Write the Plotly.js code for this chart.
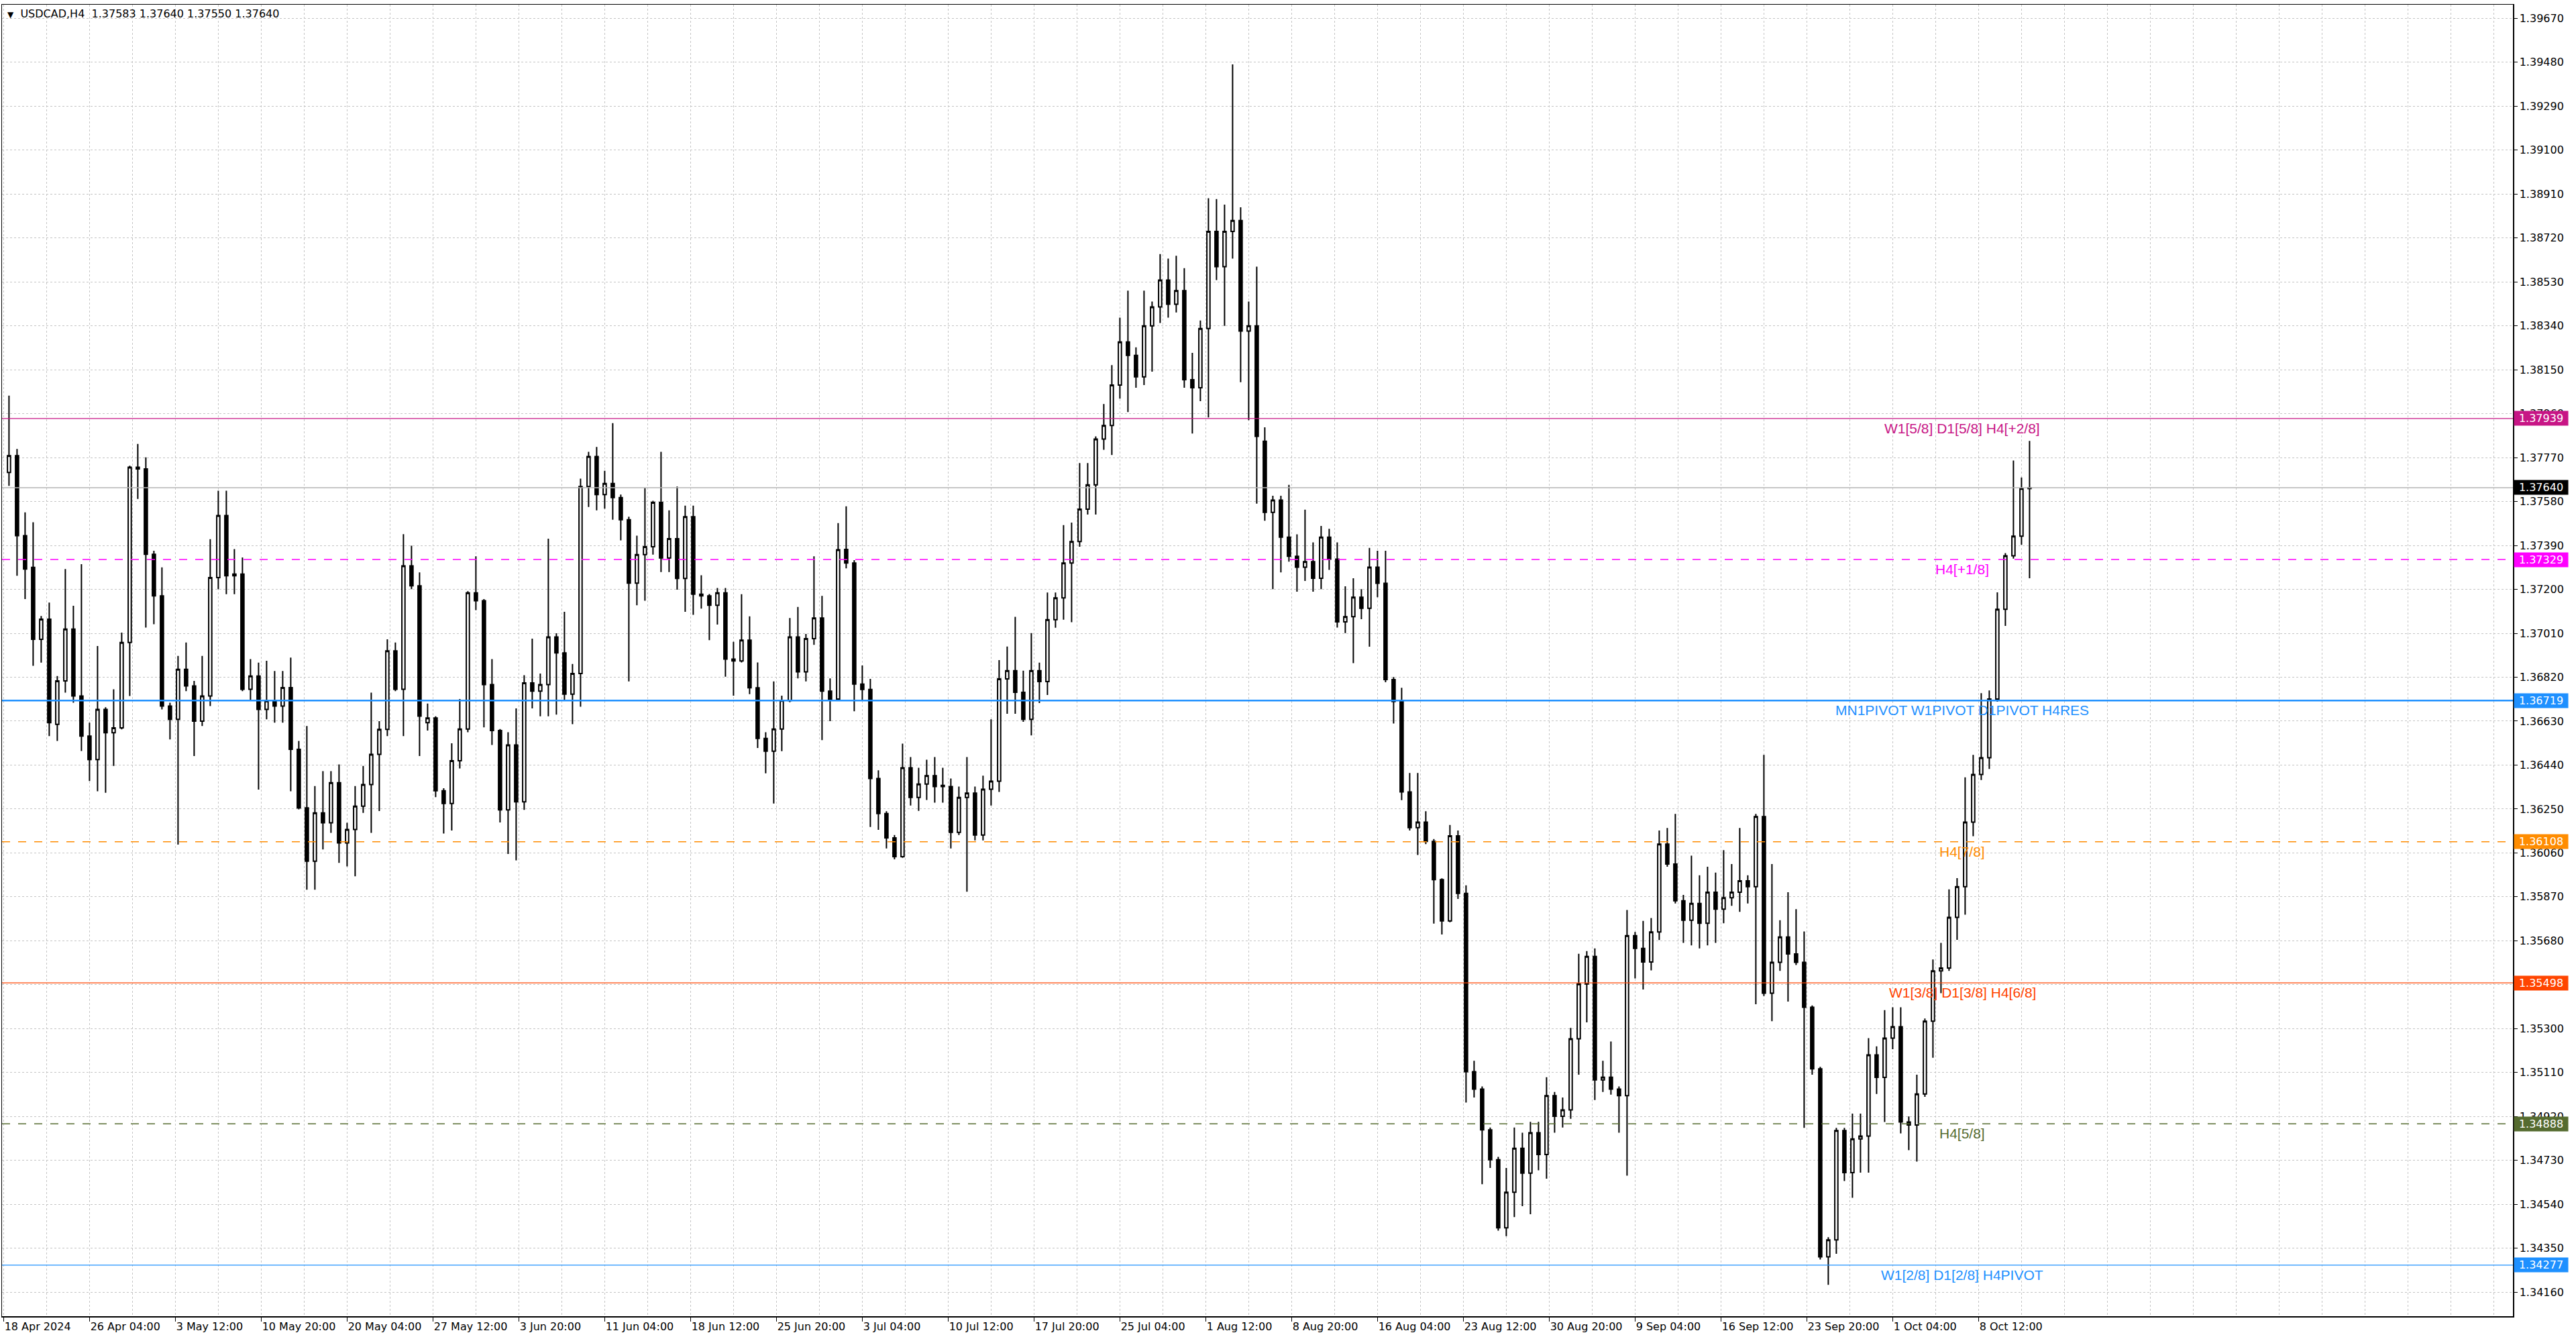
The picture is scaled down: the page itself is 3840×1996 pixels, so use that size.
<!DOCTYPE html>
<html>
<head>
<meta charset="utf-8">
<script src="https://cdn.plot.ly/plotly-3.0.1.min.js"></script>
<style>
  html, body { margin: 0; padding: 0; background: #ffffff; }
  #chart { width: 3840px; height: 1996px; }
</style>
</head>
<body>
<div id="chart"></div>
<script>
// USDCAD H4 in 12h steps (3 H4 bars each)
const openP = [1.37706,1.37778,1.37432,1.37295,1.36984,1.37071,1.36616,1.36804,1.37028,1.36739,
  1.36565,1.36464,1.36681,1.36580,1.36601,1.36970,1.37728,1.37721,1.37352,1.37172,
  1.36695,1.36638,1.36854,1.36782,1.36630,1.36739,1.37251,1.37519,1.37259,1.37266,
  1.36768,1.36825,1.36681,1.36717,1.36695,1.36775,1.36508,1.36255,1.36024,1.36233,
  1.36190,1.36364,1.36103,1.36161,1.36262,1.36356,1.36486,1.36594,1.36934,1.36768,
  1.37302,1.37215,1.36623,1.36644,1.36329,1.36274,1.36459,1.36596,1.37185,1.37151,
  1.36788,1.36589,1.36246,1.36527,1.36281,1.36795,1.36760,1.36788,1.36994,1.36925,
  1.36747,1.36836,1.37645,1.37775,1.37610,1.37658,1.37597,1.37501,1.37227,1.37350,
  1.37384,1.37576,1.37336,1.37419,1.37247,1.37514,1.37179,1.37172,1.37131,1.37185,
  1.36898,1.36890,1.36980,1.36774,1.36555,1.36500,1.36596,1.36719,1.36994,1.36843,
  1.36987,1.37076,1.36760,1.36726,1.37373,1.37314,1.36790,1.36767,1.36382,1.36230,
  1.36125,1.36044,1.36428,1.36300,1.36358,1.36394,1.36347,1.36347,1.36149,1.36300,
  1.36319,1.36137,1.36335,1.36370,1.36813,1.36848,1.36755,1.36638,1.36848,1.36801,
  1.37069,1.37163,1.37314,1.37407,1.37547,1.37652,1.37850,1.37909,1.38084,1.38270,
  1.38212,1.38119,1.38340,1.38422,1.38538,1.38433,1.38492,1.38107,1.38072,1.38328,
  1.38748,1.38596,1.38748,1.38795,1.38317,1.38340,1.37841,1.37533,1.37586,1.37426,
  1.37343,1.37296,1.37320,1.37248,1.37426,1.37331,1.37059,1.37082,1.37166,1.37118,
  1.37296,1.37226,1.36810,1.36715,1.36324,1.36169,1.36193,1.36110,1.35944,1.35766,
  1.36134,1.35885,1.35114,1.35038,1.34862,1.34733,1.34438,1.34592,1.34782,1.34675,
  1.34850,1.34755,1.35010,1.34921,1.34948,1.35256,1.35493,1.35612,1.35078,1.35090,
  1.35038,1.35010,1.35702,1.35647,1.35588,1.35718,1.36098,1.36012,1.35853,1.35769,
  1.35841,1.35756,1.35890,1.35817,1.35866,1.35890,1.35939,1.35914,1.36217,1.35453,
  1.35587,1.35696,1.35623,1.35587,1.35392,1.35126,1.34313,1.34386,1.34859,1.34677,
  1.34823,1.34835,1.35186,1.35089,1.35259,1.35308,1.34896,1.34883,1.35017,1.35332,
  1.35550,1.35562,1.35781,1.35914,1.36193,1.36399,1.36472,1.36726,1.37114,1.37345,
  1.37430,1.37636];

const highP = [1.38038,1.37807,1.37533,1.37490,1.37085,1.37143,1.36825,1.37288,1.37129,1.37309,
  1.36623,1.36955,1.36690,1.36768,1.37013,1.37735,1.37829,1.37771,1.37367,1.37295,
  1.36710,1.36912,1.36970,1.36804,1.36912,1.37417,1.37627,1.37627,1.37374,1.37338,
  1.36898,1.36883,1.36891,1.36847,1.36847,1.36905,1.36544,1.36609,1.36349,1.36414,
  1.36414,1.36443,1.36190,1.36349,1.36436,1.36753,1.36630,1.36984,1.36970,1.37439,
  1.37389,1.37273,1.36706,1.36651,1.36340,1.36534,1.36726,1.37192,1.37343,1.37158,
  1.36898,1.36596,1.36582,1.36685,1.36829,1.36987,1.36836,1.37419,1.37010,1.37103,
  1.36877,1.37679,1.37795,1.37816,1.37713,1.37919,1.37610,1.37514,1.37432,1.37638,
  1.37583,1.37795,1.37542,1.37645,1.37562,1.37562,1.37261,1.37180,1.37206,1.37206,
  1.36973,1.37179,1.37083,1.36884,1.36582,1.36802,1.36740,1.37076,1.37124,1.37007,
  1.37343,1.37172,1.36815,1.37487,1.37559,1.37326,1.36871,1.36813,1.36417,1.36240,
  1.36137,1.36533,1.36475,1.36428,1.36463,1.36475,1.36428,1.36382,1.36347,1.36475,
  1.36347,1.36394,1.36638,1.36894,1.36953,1.37081,1.36848,1.37011,1.36883,1.37186,
  1.37186,1.37478,1.37489,1.37746,1.37746,1.37862,1.38002,1.38170,1.38375,1.38492,
  1.38247,1.38492,1.38445,1.38650,1.38631,1.38643,1.38589,1.38223,1.38363,1.38892,
  1.38888,1.38864,1.39471,1.38853,1.38445,1.38596,1.37901,1.37605,1.37605,1.37652,
  1.37438,1.37545,1.37403,1.37474,1.37462,1.37403,1.37213,1.37248,1.37201,1.37379,
  1.37367,1.37367,1.36821,1.36774,1.36406,1.36406,1.36240,1.36120,1.35950,1.36181,
  1.36157,1.35920,1.35161,1.35050,1.34872,1.34745,1.34697,1.34872,1.34850,1.34897,
  1.34897,1.35090,1.35026,1.35002,1.35303,1.35624,1.35635,1.35647,1.35161,1.35244,
  1.35050,1.35813,1.35718,1.35766,1.35778,1.36157,1.36168,1.36229,1.35878,1.36048,
  1.35963,1.36000,1.35975,1.36072,1.36012,1.36168,1.35963,1.36229,1.36484,1.36012,
  1.35769,1.35890,1.35817,1.35720,1.35400,1.35135,1.34398,1.34871,1.34871,1.34932,
  1.34932,1.35259,1.35223,1.35380,1.35392,1.35392,1.34920,1.35101,1.35344,1.35599,
  1.35671,1.35902,1.35951,1.36387,1.36484,1.36751,1.36763,1.37187,1.37357,1.37757,
  1.37684,1.37842];

const lowP = [1.37648,1.37259,1.37158,1.36869,1.36883,1.36565,1.36544,1.36753,1.36710,1.36501,
  1.36371,1.36327,1.36320,1.36436,1.36594,1.36739,1.37591,1.37035,1.37049,1.36681,
  1.36551,1.36096,1.36760,1.36479,1.36609,1.36695,1.37201,1.37179,1.37179,1.36760,
  1.36717,1.36334,1.36638,1.36623,1.36623,1.36327,1.36248,1.35901,1.35901,1.36075,
  1.36147,1.36017,1.36002,1.35959,1.36233,1.36147,1.36241,1.36565,1.36760,1.36565,
  1.37201,1.36479,1.36589,1.36301,1.36144,1.36157,1.36425,1.36582,1.37110,1.36603,
  1.36527,1.36192,1.36055,1.36028,1.36246,1.36685,1.36651,1.36651,1.36658,1.36719,
  1.36617,1.36692,1.37556,1.37542,1.37549,1.37501,1.37412,1.36802,1.37131,1.37151,
  1.37350,1.37275,1.37275,1.37199,1.37103,1.37090,1.37117,1.36980,1.37048,1.36822,
  1.36740,1.36884,1.36747,1.36514,1.36404,1.36274,1.36500,1.36712,1.36815,1.36802,
  1.36960,1.36548,1.36630,1.36719,1.37291,1.36673,1.36720,1.36172,1.36160,1.36079,
  1.36032,1.36039,1.36265,1.36242,1.36289,1.36277,1.36277,1.36079,1.36137,1.35892,
  1.36114,1.36114,1.36265,1.36324,1.36662,1.36662,1.36627,1.36568,1.36708,1.36743,
  1.37034,1.37069,1.37058,1.37384,1.37524,1.37524,1.37804,1.37781,1.38025,1.37967,
  1.38072,1.38084,1.38142,1.38352,1.38375,1.38398,1.38072,1.37874,1.38014,1.37944,
  1.38538,1.38340,1.38631,1.38096,1.37932,1.37571,1.37497,1.37201,1.37273,1.37320,
  1.37190,1.37236,1.37190,1.37201,1.37284,1.37035,1.37011,1.36881,1.37071,1.36952,
  1.37166,1.36798,1.36620,1.36288,1.36157,1.36051,1.36098,1.35754,1.35707,1.35760,
  1.35861,1.34980,1.35002,1.34627,1.34697,1.34426,1.34402,1.34485,1.34532,1.34497,
  1.34687,1.34651,1.34850,1.34872,1.34910,1.35101,1.35327,1.34991,1.35026,1.35014,
  1.34850,1.34664,1.35517,1.35469,1.35552,1.35683,1.36000,1.35841,1.35671,1.35660,
  1.35647,1.35660,1.35671,1.35756,1.35831,1.35805,1.35841,1.35405,1.35441,1.35332,
  1.35550,1.35417,1.35575,1.34871,1.35101,1.34301,1.34192,1.34326,1.34641,1.34568,
  1.34677,1.34677,1.35017,1.34896,1.35211,1.34847,1.34774,1.34725,1.35005,1.35174,
  1.35453,1.35550,1.35684,1.35793,1.36132,1.36375,1.36423,1.36714,1.37042,1.37333,
  1.37393,1.37248];

const closeP = [1.37778,1.37432,1.37288,1.36984,1.37071,1.36623,1.36804,1.37028,1.36739,1.36565,
  1.36464,1.36681,1.36580,1.36601,1.36970,1.37728,1.37721,1.37352,1.37172,1.36695,
  1.36638,1.36854,1.36782,1.36630,1.36739,1.37251,1.37519,1.37259,1.37266,1.36768,
  1.36825,1.36681,1.36717,1.36695,1.36775,1.36508,1.36255,1.36024,1.36233,1.36190,
  1.36364,1.36103,1.36161,1.36262,1.36356,1.36486,1.36594,1.36934,1.36768,1.37302,
  1.37215,1.36652,1.36644,1.36329,1.36274,1.36459,1.36596,1.37185,1.37151,1.36788,
  1.36589,1.36246,1.36527,1.36281,1.36795,1.36760,1.36788,1.36994,1.36925,1.36747,
  1.36836,1.37645,1.37775,1.37610,1.37658,1.37597,1.37501,1.37227,1.37350,1.37384,
  1.37576,1.37336,1.37419,1.37247,1.37514,1.37179,1.37172,1.37131,1.37185,1.36898,
  1.36890,1.36980,1.36774,1.36555,1.36500,1.36596,1.36719,1.36994,1.36843,1.36987,
  1.37076,1.36760,1.36726,1.37371,1.37314,1.36790,1.36767,1.36382,1.36230,1.36125,
  1.36044,1.36428,1.36300,1.36358,1.36394,1.36347,1.36352,1.36149,1.36300,1.36319,
  1.36137,1.36335,1.36370,1.36813,1.36848,1.36755,1.36638,1.36848,1.36801,1.37069,
  1.37163,1.37314,1.37407,1.37547,1.37652,1.37850,1.37909,1.38084,1.38270,1.38212,
  1.38119,1.38340,1.38422,1.38538,1.38433,1.38492,1.38107,1.38072,1.38328,1.38748,
  1.38596,1.38748,1.38795,1.38317,1.38340,1.37862,1.37533,1.37586,1.37426,1.37343,
  1.37296,1.37320,1.37248,1.37426,1.37331,1.37059,1.37082,1.37166,1.37118,1.37296,
  1.37226,1.36810,1.36715,1.36324,1.36169,1.36193,1.36110,1.35944,1.35766,1.36134,
  1.35885,1.35114,1.35038,1.34862,1.34733,1.34438,1.34592,1.34782,1.34675,1.34850,
  1.34755,1.35010,1.34921,1.34948,1.35256,1.35493,1.35612,1.35078,1.35090,1.35038,
  1.35010,1.35702,1.35647,1.35588,1.35718,1.36098,1.36012,1.35853,1.35769,1.35841,
  1.35756,1.35890,1.35817,1.35866,1.35890,1.35939,1.35914,1.36217,1.35453,1.35587,
  1.35696,1.35623,1.35587,1.35392,1.35126,1.34313,1.34386,1.34859,1.34677,1.34823,
  1.34835,1.35186,1.35089,1.35259,1.35308,1.34896,1.34883,1.35017,1.35332,1.35550,
  1.35562,1.35781,1.35914,1.36193,1.36399,1.36472,1.36726,1.37114,1.37345,1.37430,
  1.37636,1.37640];

// price levels drawn by the indicator
const levelPrices = [1.37939, 1.37329, 1.36719, 1.36108, 1.35498, 1.34888, 1.34277];
const levelNames = ["W1[5/8] D1[5/8] H4[+2/8]", "H4[+1/8]", "MN1PIVOT W1PIVOT D1PIVOT H4RES",
  "H4[7/8]", "W1[3/8] D1[3/8] H4[6/8]", "H4[5/8]", "W1[2/8] D1[2/8] H4PIVOT"];
const lastPrice = 1.37640;
const titleText = "USDCAD,H4\u00a0 1.37583 1.37640 1.37550 1.37640";

const priceTicks = [1.34160, 1.34350, 1.34540, 1.34730, 1.34920, 1.35110, 1.35300, 1.35490,
  1.35680, 1.35870, 1.36060, 1.36250, 1.36440, 1.36630, 1.36820, 1.37010, 1.37200, 1.37390,
  1.37580, 1.37770, 1.37960, 1.38150, 1.38340, 1.38530, 1.38720, 1.38910, 1.39100, 1.39290,
  1.39480, 1.39670];

const timeTicks = ["2024-04-18 20:00", "2024-04-26 04:00", "2024-05-03 12:00", "2024-05-10 20:00",
  "2024-05-20 04:00", "2024-05-27 12:00", "2024-06-03 20:00", "2024-06-11 04:00",
  "2024-06-18 12:00", "2024-06-25 20:00", "2024-07-03 04:00", "2024-07-10 12:00",
  "2024-07-17 20:00", "2024-07-25 04:00", "2024-08-01 12:00", "2024-08-08 20:00",
  "2024-08-16 04:00", "2024-08-23 12:00", "2024-08-30 20:00", "2024-09-09 04:00",
  "2024-09-16 12:00", "2024-09-23 20:00", "2024-10-01 04:00", "2024-10-08 12:00"];
const timeLabels = ["18 Apr 2024", "26 Apr 04:00", "3 May 12:00", "10 May 20:00", "20 May 04:00",
  "27 May 12:00", "3 Jun 20:00", "11 Jun 04:00", "18 Jun 12:00", "25 Jun 20:00", "3 Jul 04:00",
  "10 Jul 12:00", "17 Jul 20:00", "25 Jul 04:00", "1 Aug 12:00", "8 Aug 20:00", "16 Aug 04:00",
  "23 Aug 12:00", "30 Aug 20:00", "9 Sep 04:00", "16 Sep 12:00", "23 Sep 20:00", "1 Oct 04:00",
  "8 Oct 12:00"];

// styles
const levelColors = ["#C71585", "#FF00FF", "#1E90FF", "#FF8C00", "#FF4500", "#556B2F", "#1E90FF"];
const levelDash = ["solid", "12px,12px", "solid", "12px,12px", "solid", "12px,12px", "solid"];
const levelWidth = [1.2, 1.5, 2.5, 1.5, 1.2, 1.5, 1.2];

const HOUR = 3600000;
function fmt(ms) {
  return new Date(ms).toISOString().slice(0, 16).replace("T", " ");
}
function toMs(s) {
  return Date.parse(s.replace(" ", "T") + ":00Z");
}
// step forward n H4 bars, skipping weekends
function stepBars(ms, n) {
  for (let i = 0; i < n; i++) {
    ms += 4 * HOUR;
    if (new Date(ms).getUTCDay() === 6) ms += 48 * HOUR;
  }
  return ms;
}

// session times: two 12h sessions per trading day, placed at their middle bar
const sessions = [];
for (let d = Date.UTC(2024, 3, 19); d <= Date.UTC(2024, 9, 11); d += 24 * HOUR) {
  const wd = new Date(d).getUTCDay();
  if (wd === 0 || wd === 6) continue;
  sessions.push(fmt(d + 4 * HOUR));
  sessions.push(fmt(d + 16 * HOUR));
}

const xRange = ["2024-04-18 17:36", "2024-11-22 16:36"];

// vertical grid every 16 bars
const gridTimes = [];
let g = toMs(timeTicks[0]);
const gEnd = toMs(xRange[1]);
while (g <= gEnd) {
  gridTimes.push(fmt(g));
  g = stepBars(g, 16);
}

const candles = {
  type: "candlestick",
  x: sessions,
  open: openP,
  high: highP,
  low: lowP,
  close: closeP,
  increasing: { line: { color: "#000000", width: 2 }, fillcolor: "#ffffff" },
  decreasing: { line: { color: "#000000", width: 2 }, fillcolor: "#000000" },
  whiskerwidth: 0,
  hoverinfo: "skip",
  showlegend: false
};

const shapes = [];
const annotations = [];

shapes.push({
  type: "line", xref: "paper", x0: 0, x1: 1, yref: "y", y0: lastPrice, y1: lastPrice,
  line: { color: "#b4b4b4", width: 1.5 }
});

levelPrices.forEach(function (p, i) {
  shapes.push({
    type: "line", xref: "paper", x0: 0, x1: 1, yref: "y", y0: p, y1: p,
    line: { color: levelColors[i], width: levelWidth[i], dash: levelDash[i] }
  });
  annotations.push({
    x: "2024-10-07 12:00", xref: "x", y: p, yref: "y",
    xanchor: "center", yanchor: "top", yshift: -1,
    text: levelNames[i], showarrow: false,
    font: { family: "Liberation Sans, Arial, sans-serif", size: 21, color: levelColors[i] }
  });
  annotations.push({
    x: 1, xref: "paper", y: p, yref: "y", xanchor: "left", yanchor: "middle", xshift: 1,
    text: p.toFixed(5), showarrow: false, bgcolor: levelColors[i], width: 80, height: 21,
    borderpad: 0, align: "center",
    font: { family: "DejaVu Sans, Verdana, sans-serif", size: 16, color: "#ffffff" }
  });
});

annotations.push({
  x: 1, xref: "paper", y: lastPrice, yref: "y", xanchor: "left", yanchor: "middle", xshift: 1,
  text: lastPrice.toFixed(5), showarrow: false, bgcolor: "#000000", width: 80, height: 21,
  borderpad: 0, align: "center",
  font: { family: "DejaVu Sans, Verdana, sans-serif", size: 16, color: "#ffffff" }
});

annotations.push({
  x: 0, xref: "paper", y: 1, yref: "paper", xanchor: "left", yanchor: "top",
  xshift: 6, yshift: -2, showarrow: false,
  text: "<span style='font-size:12px'>\u25bc</span>\u00a0 " + titleText,
  font: { family: "DejaVu Sans, Verdana, sans-serif", size: 16, color: "#000000" }
});

const layout = {
  width: 3840,
  height: 1996,
  margin: { l: 3, r: 94, t: 7, b: 34 },
  paper_bgcolor: "#ffffff",
  plot_bgcolor: "#ffffff",
  showlegend: false,
  boxgap: 0.45,
  font: { family: "DejaVu Sans, Verdana, sans-serif", size: 16, color: "#000000" },
  xaxis: {
    type: "date",
    range: xRange,
    rangebreaks: [{ bounds: ["sat", "mon"] }],
    rangeslider: { visible: false },
    tickmode: "array",
    tickvals: timeTicks,
    ticktext: timeLabels,
    ticks: "outside",
    ticklen: 6,
    tickcolor: "#000000",
    ticklabelposition: "outside right",
    ticklabeloverflow: "allow",
    tickfont: { family: "DejaVu Sans, Verdana, sans-serif", size: 16, color: "#000000" },
    showgrid: false,
    minor: {
      tickmode: "array",
      tickvals: gridTimes,
      showgrid: true,
      gridcolor: "#c4c4c4",
      griddash: "3px,3px",
      gridwidth: 1,
      ticks: ""
    },
    showline: true,
    linecolor: "#000000",
    linewidth: 1.5,
    mirror: true,
    zeroline: false,
    fixedrange: true
  },
  yaxis: {
    side: "right",
    range: [1.34056, 1.39729],
    tickmode: "array",
    tickvals: priceTicks,
    tickformat: ".5f",
    ticks: "outside",
    ticklen: 5,
    tickcolor: "#000000",
    tickfont: { family: "DejaVu Sans, Verdana, sans-serif", size: 16, color: "#000000" },
    showgrid: true,
    gridcolor: "#c4c4c4",
    griddash: "3px,3px",
    gridwidth: 1,
    showline: true,
    linecolor: "#000000",
    linewidth: 1.5,
    mirror: true,
    zeroline: false,
    fixedrange: true
  },
  shapes: shapes,
  annotations: annotations
};

Plotly.newPlot("chart", [candles], layout, { staticPlot: true, displayModeBar: false });
</script>
</body>
</html>
